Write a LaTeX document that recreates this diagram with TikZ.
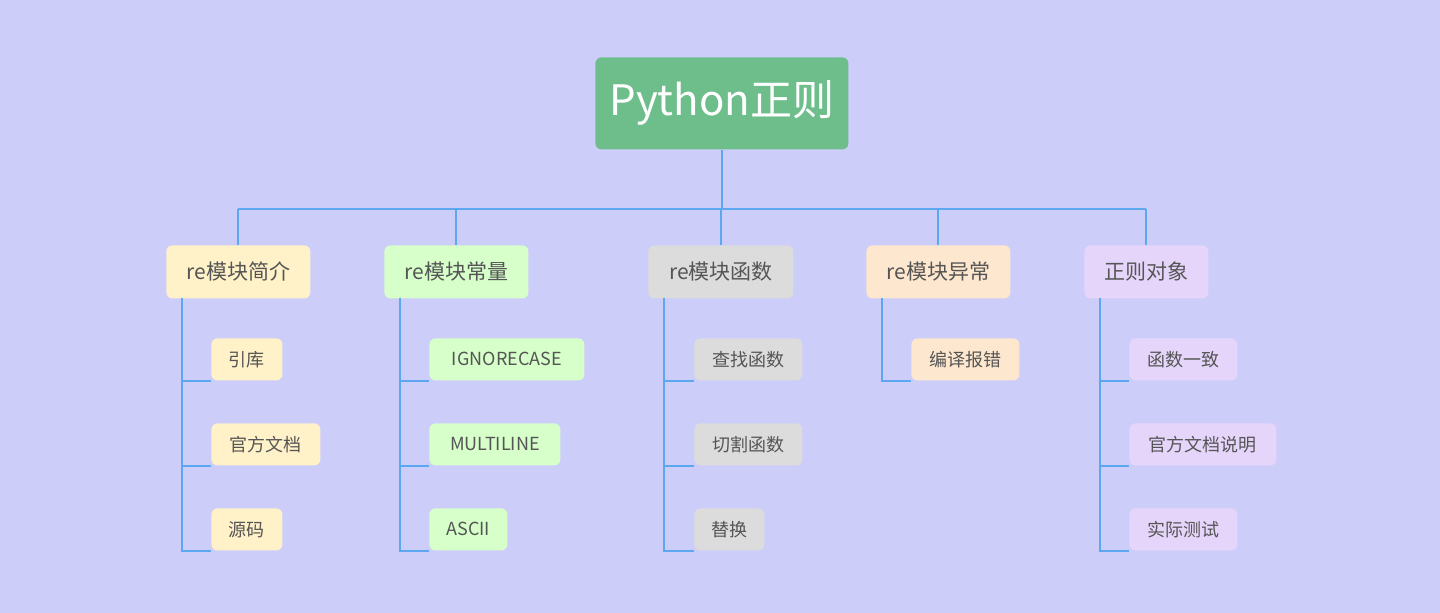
\documentclass[tikz,border=0pt]{standalone}
\usepackage{fontspec}
\setmainfont{Noto Sans CJK SC}
\definecolor{bg}{HTML}{CDCDFA}
\definecolor{ln}{HTML}{5BA8F0}
\definecolor{tx}{HTML}{555555}
\definecolor{root}{HTML}{6EBE8C}
\definecolor{cA}{HTML}{FFF1C8}
\definecolor{cB}{HTML}{D6FFCA}
\definecolor{cC}{HTML}{DCDCDC}
\definecolor{cD}{HTML}{FDE7CE}
\definecolor{cE}{HTML}{E6D5FA}
\begin{document}
\begin{tikzpicture}[x=0.5pt,y=-0.5pt,
  box/.style={rounded corners=3pt,inner sep=0pt,text=tx,anchor=north west},
  l1/.style={box,minimum height=26.5pt,font=\fontsize{10.5}{12}\selectfont},
  l2/.style={box,minimum height=21pt,font=\fontsize{9}{11}\selectfont},
  con/.style={draw=ln,line width=1pt}]
\fill[bg] (0,0) rectangle (1440,613);
\useasboundingbox (0,0) rectangle (1440,613);
\node[box,fill=root,text=white,minimum width=126.5pt,minimum height=46pt,font=\fontsize{21}{24}\selectfont] (root) at (595,57) {Python正则};
\node[l1,fill=cA,minimum width=72pt] (a) at (166,245) {re模块简介};
\node[l1,fill=cB,minimum width=72pt] (b) at (384,245) {re模块常量};
\node[l1,fill=cC,minimum width=72.5pt] (c) at (648,245) {re模块函数};
\node[l1,fill=cD,minimum width=72pt] (d) at (866,245) {re模块异常};
\node[l1,fill=cE,minimum width=62pt] (e) at (1084,245) {正则对象};
\coordinate (bus) at (721,209);
\draw[con] (root.south) -- (root.south |- bus);
\foreach \n in {a,b,c,d,e} \draw[con] (\n.north) -- (\n.north |- bus);
\draw[con] (a.north |- bus) -- (e.north |- bus);
% leaves
\node[l2,fill=cA,minimum width=35.5pt] (a1) at (211,338) {引库};
\node[l2,fill=cA,minimum width=54.5pt] (a2) at (211,423) {官方文档};
\node[l2,fill=cA,minimum width=35.5pt] (a3) at (211,508) {源码};
\node[l2,fill=cB,minimum width=77.5pt] (b1) at (429,338) {IGNORECASE};
\node[l2,fill=cB,minimum width=65.5pt] (b2) at (429,423) {MULTILINE};
\node[l2,fill=cB,minimum width=39pt] (b3) at (429,508) {ASCII};
\node[l2,fill=cC,minimum width=54pt] (c1) at (694,338) {查找函数};
\node[l2,fill=cC,minimum width=54pt] (c2) at (694,423) {切割函数};
\node[l2,fill=cC,minimum width=35pt] (c3) at (694,508) {替换};
\node[l2,fill=cD,minimum width=54pt] (d1) at (911,338) {编译报错};
\node[l2,fill=cE,minimum width=54pt] (e1) at (1129,338) {函数一致};
\node[l2,fill=cE,minimum width=73.5pt] (e2) at (1129,423) {官方文档说明};
\node[l2,fill=cE,minimum width=54pt] (e3) at (1129,508) {实际测试};
\foreach \p/\x/\ls in {a/182/{a1,a2,a3},b/400/{b1,b2,b3},c/664/{c1,c2,c3},d/882/{d1},e/1100/{e1,e2,e3}}{
  \foreach \l in \ls {
    \draw[con] (\x,298) |- (\l.south west);
  }
}
\end{tikzpicture}
\end{document}
